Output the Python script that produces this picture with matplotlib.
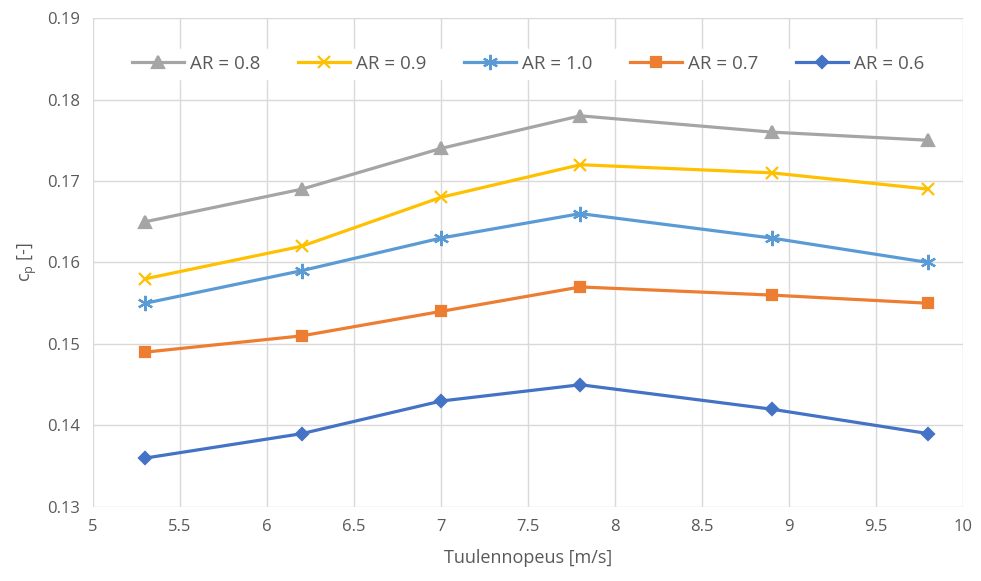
import matplotlib.pyplot as plt
from matplotlib.ticker import MultipleLocator, FormatStrFormatter

plt.rcParams['font.family'] = ['Open Sans', 'DejaVu Sans']

wind_speed = [5.3, 6.2, 7.0, 7.8, 8.9, 9.8]
cp_ar08 = [0.165, 0.169, 0.174, 0.178, 0.176, 0.175]
cp_ar09 = [0.158, 0.162, 0.168, 0.172, 0.171, 0.169]
cp_ar10 = [0.155, 0.159, 0.163, 0.166, 0.163, 0.160]
cp_ar07 = [0.149, 0.151, 0.154, 0.157, 0.156, 0.155]
cp_ar06 = [0.136, 0.139, 0.143, 0.145, 0.142, 0.139]

series = [
    ('AR = 0.8', cp_ar08, '#A5A5A5', '^', 8),
    ('AR = 0.9', cp_ar09, '#FFC000', 'x', 9),
    ('AR = 1.0', cp_ar10, '#5B9BD5', (6, 2, 0), 11),
    ('AR = 0.7', cp_ar07, '#ED7D31', 's', 7),
    ('AR = 0.6', cp_ar06, '#4472C4', 'D', 6.5),
]

fig = plt.figure(figsize=(9.81, 5.81), dpi=100)
ax = fig.add_axes([0.0948, 0.1274, 0.887, 0.8416])

for label, vals, color, marker, ms in series:
    ax.plot(wind_speed, vals, color=color, lw=2.3, marker=marker, ms=ms,
            mew=1.6, mfc=color, mec=color, label=label)

ax.set_xlim(5, 10)
ax.set_ylim(0.13, 0.19)
ax.xaxis.set_major_locator(MultipleLocator(0.5))
ax.yaxis.set_major_locator(MultipleLocator(0.01))
ax.xaxis.set_major_formatter(FormatStrFormatter('%g'))
ax.yaxis.set_major_formatter(FormatStrFormatter('%.2f'))
ax.grid(True, color='#D9D9D9', lw=1)
ax.set_axisbelow(True)
for s in ax.spines.values():
    s.set_visible(False)
ax.tick_params(length=0, colors='#595959', labelsize=12, pad=9)

ax.set_xlabel('Tuulennopeus [m/s]', color='#595959', fontsize=13, labelpad=10)
ax.set_ylabel('c$_\\mathregular{p}$ [-]', color='#595959', fontsize=13, labelpad=6)

leg = ax.legend(loc='upper center', ncol=5, frameon=True, fontsize=13.5,
                bbox_to_anchor=(0.5, 0.955), handlelength=2.8, columnspacing=2.0,
                handletextpad=0.3, borderpad=0.3, labelcolor='#595959')
leg.get_frame().set_facecolor('white')
leg.get_frame().set_edgecolor('white')
leg.get_frame().set_alpha(1)

fig.savefig('out.png', dpi=100)
